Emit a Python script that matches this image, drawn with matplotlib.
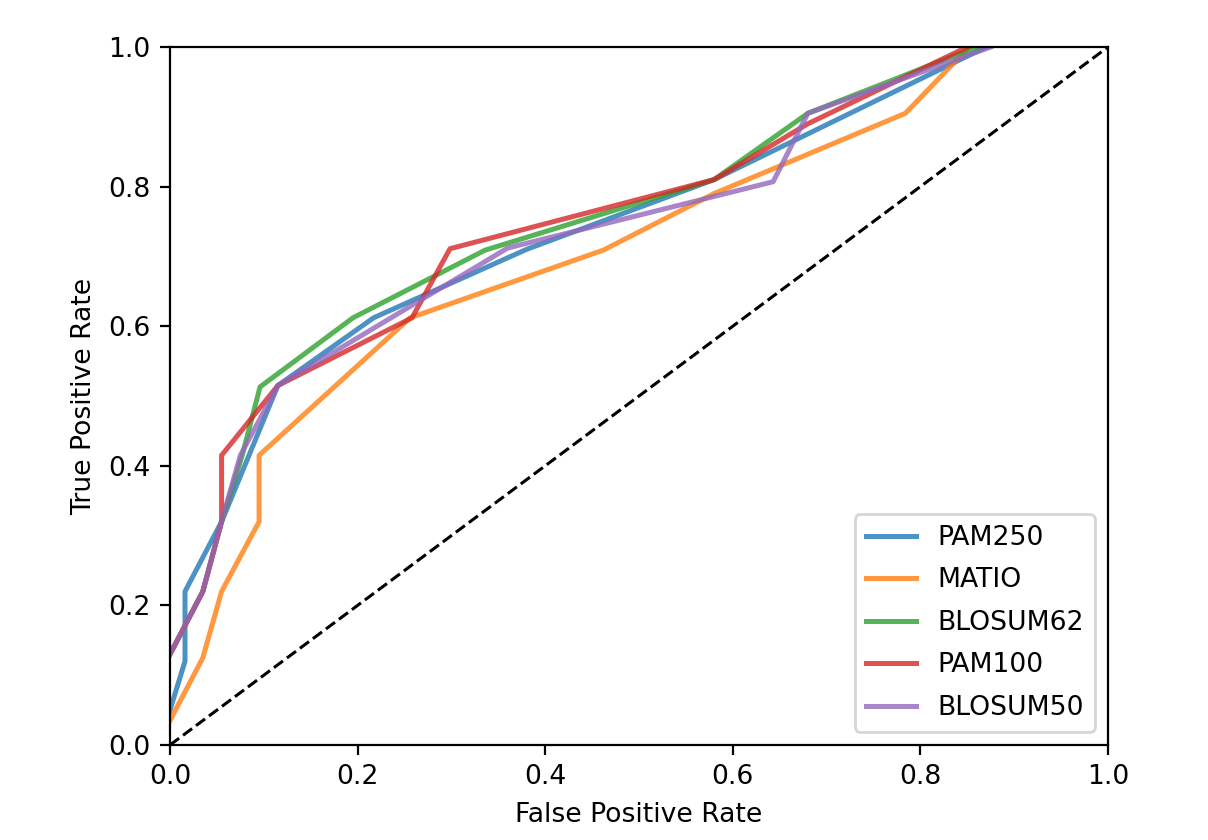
import numpy as np
import matplotlib
matplotlib.use("Agg")
import matplotlib.pyplot as plt

# ROC points (false positive rate, true positive rate)
pam250_fpr = [0.0, 0.016, 0.016, 0.055, 0.115, 0.217, 0.38, 0.58, 0.87]
pam250_tpr = [0.05, 0.12, 0.22, 0.32, 0.515, 0.612, 0.71, 0.81, 1.0]

matio_fpr = [0.0, 0.035, 0.055, 0.095, 0.095, 0.256, 0.462, 0.58, 0.784, 0.852]
matio_tpr = [0.035, 0.125, 0.22, 0.32, 0.415, 0.612, 0.709, 0.79, 0.905, 1.0]

blosum62_fpr = [0.0, 0.035, 0.055, 0.077, 0.096, 0.195, 0.336, 0.58, 0.68, 0.86]
blosum62_tpr = [0.13, 0.22, 0.32, 0.415, 0.513, 0.612, 0.709, 0.81, 0.905, 1.0]

pam100_fpr = [0.0, 0.035, 0.055, 0.055, 0.115, 0.258, 0.2985, 0.58, 0.68, 0.85]
pam100_tpr = [0.13, 0.22, 0.32, 0.415, 0.515, 0.612, 0.711, 0.81, 0.89, 1.0]

blosum50_fpr = [0.0, 0.035, 0.055, 0.075, 0.115, 0.36, 0.643, 0.68, 0.875]
blosum50_tpr = [0.13, 0.22, 0.32, 0.415, 0.515, 0.712, 0.807, 0.905, 1.0]

names = ["PAM250", "MATIO", "BLOSUM62", "PAM100", "BLOSUM50"]
fprs = [pam250_fpr, matio_fpr, blosum62_fpr, pam100_fpr, blosum50_fpr]
tprs = [pam250_tpr, matio_tpr, blosum62_tpr, pam100_tpr, blosum50_tpr]

fig = plt.figure(figsize=(6.04, 4.2), dpi=200)
ax = fig.add_axes([170/1208, 1 - 745/840, 938/1208, 698/840])

for name, x, y in zip(names, fprs, tprs):
  ax.plot(x, y, lw=1.8, alpha=0.8, label=name)

ax.plot([0, 1], [0, 1], 'k--', lw=1.1)
ax.set_xlim(0, 1)
ax.set_ylim(0, 1)
ax.set_xticks(np.arange(0, 1.01, 0.2))
ax.set_yticks(np.arange(0, 1.01, 0.2))
ax.tick_params(labelsize=9.6)
ax.set_xlabel("False Positive Rate", fontsize=9.6)
ax.set_ylabel("True Positive Rate", fontsize=9.6)
ax.legend(loc="lower right", fontsize=9.6, labelspacing=0.62,
          handlelength=1.9)

fig.savefig("out.png", dpi=200)
